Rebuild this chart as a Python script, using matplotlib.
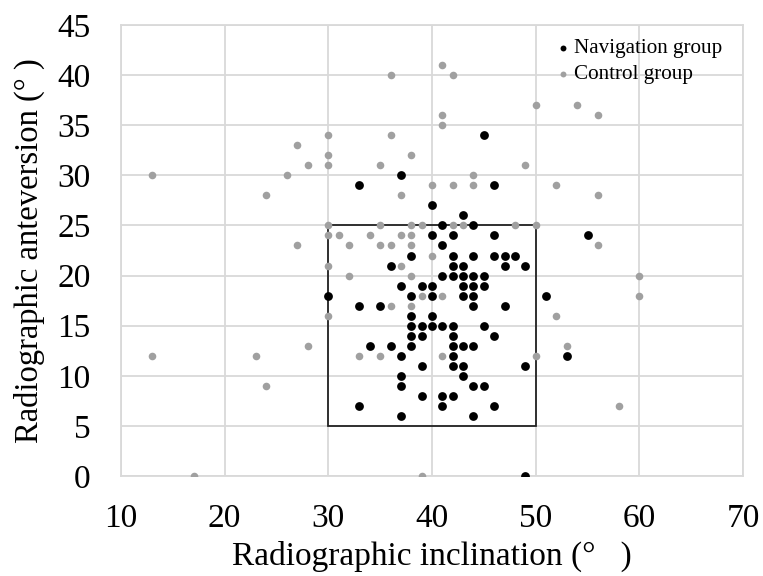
import matplotlib
matplotlib.use("Agg")
import matplotlib.pyplot as plt
from matplotlib.patches import Rectangle

plt.rcParams['font.family'] = ['Liberation Serif', 'DejaVu Serif']

# Navigation group (inclination, anteversion)
nav_x = [45, 37, 33, 46, 40, 43, 41, 44, 40, 42, 46, 55, 41,
         38, 42, 44, 46, 47, 48, 36, 42, 43, 47, 49,
         41, 42, 43, 44, 45, 37, 39, 40, 43, 44, 45,
         30, 38, 40, 43, 44, 51, 33, 35, 44, 47, 38, 40,
         38, 39, 40, 41, 42, 45, 38, 39, 42, 46,
         34, 36, 38, 42, 43, 44, 37, 42, 53, 39, 42, 43, 49,
         37, 43, 37, 44, 45, 39, 41, 42, 33, 41, 46, 37, 44, 49]
nav_y = [34, 30, 29, 29, 27, 26, 25, 25, 24, 24, 24, 24, 23,
         22, 22, 22, 22, 22, 22, 21, 21, 21, 21, 21,
         20, 20, 20, 20, 20, 19, 19, 19, 19, 19, 19,
         18, 18, 18, 18, 18, 18, 17, 17, 17, 17, 16, 16,
         15, 15, 15, 15, 15, 15, 14, 14, 14, 14,
         13, 13, 13, 13, 13, 13, 12, 12, 12, 11, 11, 11, 11,
         10, 10, 9, 9, 9, 8, 8, 8, 7, 7, 7, 6, 6, 0]

# Control group (inclination, anteversion)
ctl_x = [41, 36, 42, 50, 54, 41, 56, 41, 30, 36, 27, 30, 38,
         28, 30, 35, 49, 13, 26, 44, 40, 42, 44, 52, 24, 37, 56,
         30, 35, 38, 39, 42, 43, 48, 50, 30, 31, 34, 37, 38,
         27, 32, 35, 36, 38, 56, 40, 30, 37, 32, 38, 60,
         39, 41, 60, 36, 38, 30, 52, 28, 53,
         13, 23, 33, 35, 41, 50, 24, 58, 17, 39]
ctl_y = [41, 40, 40, 37, 37, 36, 36, 35, 34, 34, 33, 32, 32,
         31, 31, 31, 31, 30, 30, 30, 29, 29, 29, 29, 28, 28, 28,
         25, 25, 25, 25, 25, 25, 25, 25, 24, 24, 24, 24, 24,
         23, 23, 23, 23, 23, 23, 22, 21, 21, 20, 20, 20,
         18, 18, 18, 17, 17, 16, 16, 13, 13,
         12, 12, 12, 12, 12, 12, 9, 7, 0, 0]

# Target zone
zone_x = [30, 50]
zone_y = [5, 25]

x_ticks = [10, 20, 30, 40, 50, 60, 70]
y_ticks = [0, 5, 10, 15, 20, 25, 30, 35, 40, 45]

fig = plt.figure(figsize=(7.63, 5.76), dpi=100)
ax = fig.add_axes([121/763, 1 - 476/576, (743-121)/763, (476-25)/576])

grid_c = '#d9d9d9'
ax.set_xlim(x_ticks[0], x_ticks[-1])
ax.set_ylim(y_ticks[0], y_ticks[-1])
ax.set_xticks(x_ticks)
ax.set_yticks(y_ticks)
ax.grid(True, color=grid_c, linewidth=1.3, zorder=0)
ax.set_axisbelow(True)
for s in ax.spines.values():
    s.set_color(grid_c)
    s.set_linewidth(1.3)
ax.tick_params(length=0, labelsize=24, colors='black')
ax.tick_params(axis='x', pad=20)
ax.tick_params(axis='y', pad=22)

ax.add_patch(Rectangle((zone_x[0], zone_y[0]), zone_x[1]-zone_x[0], zone_y[1]-zone_y[0],
                       fill=False, edgecolor='#222222', linewidth=1.3, zorder=2))

ax.scatter(nav_x, nav_y, s=40, color='black', zorder=3, label='Navigation group', linewidths=0)
ax.scatter(ctl_x, ctl_y, s=30, color='#a0a0a0', zorder=3, label='Control group', linewidths=0)

ax.set_xlabel('Radiographic inclination (°   )', fontsize=24, labelpad=5)
ax.set_ylabel('Radiographic anteversion (° )', fontsize=23.5, labelpad=9)

leg = ax.legend(loc='upper left', bbox_to_anchor=(548/763, 1 - 28/576),
                bbox_transform=fig.transFigure, frameon=False, fontsize=15.2,
                handlelength=0.4, handletextpad=0.35, labelspacing=0.3,
                borderpad=0)
for h in leg.legend_handles:
    h.set_sizes([18])

fig.savefig('out.png', dpi=100)
